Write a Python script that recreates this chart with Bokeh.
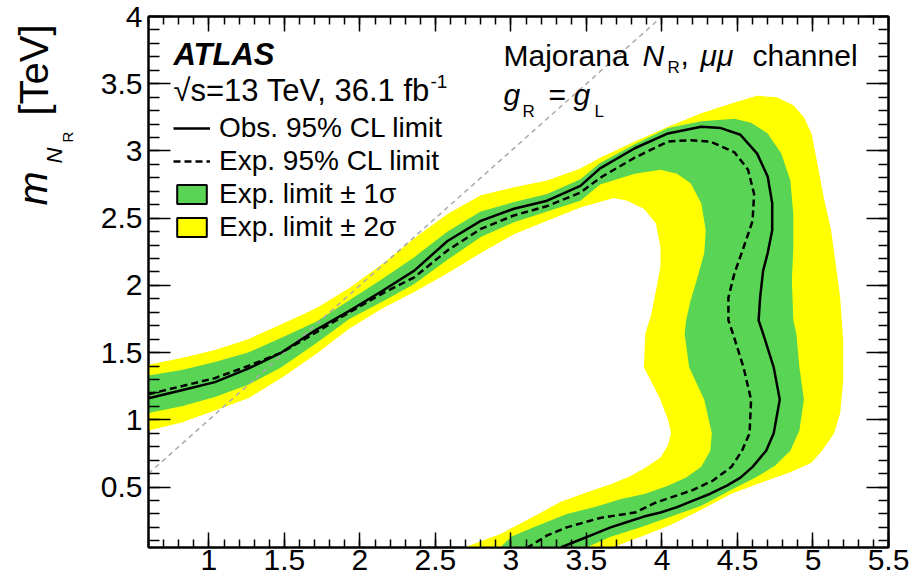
from bokeh.plotting import figure
from bokeh.layouts import row
from bokeh.models import LinearAxis, FixedTicker, Label, Legend, LegendItem
from bokeh.embed import file_html
from bokeh.resources import INLINE

# ---------------- data ----------------
# observed 95% CL limit contour (m_WR, m_NR) in TeV
obs_x = [0.60, 0.82, 1.04, 1.26, 1.48, 1.71, 1.93, 2.15, 2.36, 2.58, 2.80, 3.02, 3.24, 3.46, 3.59, 3.82,
         4.04, 4.26, 4.39, 4.52, 4.63, 4.70, 4.73, 4.73, 4.70, 4.67, 4.65, 4.64, 4.67, 4.74, 4.78, 4.74,
         4.69, 4.60, 4.52, 4.43, 4.32, 4.21, 4.10, 3.99, 3.88, 3.77, 3.66, 3.55, 3.44, 3.33]
obs_y = [1.16, 1.22, 1.28, 1.38, 1.50, 1.67, 1.81, 1.96, 2.11, 2.33, 2.48, 2.57, 2.63, 2.74, 2.87, 3.02,
         3.13, 3.18, 3.17, 3.12, 2.98, 2.81, 2.61, 2.41, 2.24, 2.11, 1.91, 1.74, 1.64, 1.39, 1.15, 0.90,
         0.77, 0.65, 0.57, 0.51, 0.45, 0.40, 0.35, 0.31, 0.28, 0.24, 0.20, 0.15, 0.10, 0.05]

# expected 95% CL limit contour
exp_x = [0.60, 0.82, 1.04, 1.26, 1.48, 1.71, 1.93, 2.15, 2.36, 2.58, 2.80, 3.02, 3.24, 3.46, 3.59, 3.82,
         4.04, 4.19, 4.32, 4.48, 4.57, 4.61, 4.60, 4.54, 4.48, 4.44, 4.44, 4.47, 4.54, 4.59, 4.58, 4.53,
         4.46, 4.34, 4.21, 4.08, 3.95, 3.82, 3.59, 3.37, 3.24, 3.11]
exp_y = [1.19, 1.25, 1.31, 1.40, 1.50, 1.65, 1.80, 1.94, 2.06, 2.26, 2.42, 2.52, 2.59, 2.69, 2.80, 2.95,
         3.07, 3.08, 3.07, 2.99, 2.86, 2.68, 2.48, 2.28, 2.09, 1.91, 1.74, 1.64, 1.39, 1.15, 0.90, 0.77,
         0.65, 0.55, 0.48, 0.43, 0.38, 0.31, 0.27, 0.20, 0.14, 0.05]

# expected +1 sigma (outer) contour
p1s_x = [0.60, 0.82, 1.04, 1.26, 1.48, 1.71, 1.93, 2.15, 2.36, 2.58, 2.80, 3.02, 3.24, 3.46, 3.59, 3.82,
         4.04, 4.26, 4.48, 4.59, 4.70, 4.79, 4.85, 4.87, 4.87, 4.86, 4.87, 4.89, 4.91, 4.94, 4.91, 4.85,
         4.75, 4.62, 4.46, 4.26, 4.06, 3.86, 3.66, 3.50]
p1s_y = [1.33, 1.37, 1.43, 1.50, 1.61, 1.73, 1.89, 2.05, 2.21, 2.40, 2.55, 2.62, 2.68, 2.79, 2.91, 3.05,
         3.17, 3.22, 3.24, 3.21, 3.13, 2.98, 2.78, 2.53, 2.28, 2.04, 1.74, 1.64, 1.39, 1.15, 0.92, 0.77,
         0.66, 0.57, 0.48, 0.36, 0.28, 0.20, 0.13, 0.05]

# expected -1 sigma (inner) contour
m1s_x = [0.60, 0.82, 1.04, 1.26, 1.48, 1.71, 1.93, 2.15, 2.36, 2.58, 2.80, 3.02, 3.24, 3.46, 3.59, 3.82,
         3.99, 4.10, 4.19, 4.26, 4.29, 4.28, 4.23, 4.19, 4.16, 4.15, 4.18, 4.28, 4.33, 4.32, 4.26, 4.16,
         4.04, 3.89, 3.73, 3.55, 3.37, 3.15, 3.00, 2.93]
m1s_y = [1.05, 1.10, 1.17, 1.26, 1.39, 1.57, 1.75, 1.88, 2.01, 2.19, 2.36, 2.47, 2.55, 2.63, 2.75, 2.83,
         2.86, 2.83, 2.76, 2.61, 2.41, 2.24, 2.04, 1.89, 1.74, 1.64, 1.39, 1.15, 0.90, 0.77, 0.65, 0.57,
         0.51, 0.45, 0.41, 0.35, 0.30, 0.20, 0.13, 0.05]

# expected +2 sigma (outer) contour
p2s_x = [0.60, 0.82, 1.04, 1.26, 1.48, 1.71, 1.93, 2.15, 2.36, 2.58, 2.80, 3.02, 3.24, 3.46, 3.59, 3.82,
         4.04, 4.26, 4.48, 4.63, 4.76, 4.87, 4.94, 4.99, 5.03, 5.07, 5.12, 5.15, 5.18, 5.20, 5.20, 5.18,
         5.14, 5.06, 4.99, 4.85, 4.65, 4.46, 4.26, 4.06, 3.86, 3.67]
p2s_y = [1.41, 1.46, 1.52, 1.60, 1.71, 1.83, 1.98, 2.16, 2.35, 2.53, 2.67, 2.73, 2.78, 2.87, 2.95, 3.07,
         3.18, 3.28, 3.36, 3.41, 3.40, 3.34, 3.25, 3.13, 2.90, 2.66, 2.41, 2.16, 1.91, 1.59, 1.29, 1.05,
         0.90, 0.77, 0.68, 0.61, 0.53, 0.45, 0.33, 0.22, 0.13, 0.05]

# expected -2 sigma (inner) contour
m2s_x = [0.60, 0.82, 1.04, 1.26, 1.48, 1.71, 1.93, 2.15, 2.36, 2.58, 2.80, 3.02, 3.24, 3.46, 3.68, 3.77,
         3.88, 3.96, 3.99, 3.99, 3.96, 3.93, 3.89, 3.88, 3.94, 3.99, 4.04, 4.06, 4.04, 3.99, 3.90, 3.79,
         3.66, 3.50, 3.33, 3.15, 2.93, 2.69]
m2s_y = [0.92, 0.98, 1.07, 1.16, 1.31, 1.49, 1.68, 1.83, 1.95, 2.09, 2.24, 2.38, 2.48, 2.58, 2.65, 2.63,
         2.57, 2.46, 2.28, 2.14, 1.96, 1.79, 1.64, 1.39, 1.26, 1.15, 1.00, 0.90, 0.81, 0.72, 0.65, 0.58,
         0.52, 0.46, 0.39, 0.28, 0.15, 0.05]

# m_N = m_W diagonal
diag_x = [0.6, 4.0]
diag_y = [0.6, 4.0]

# axes
x_range = (0.6, 5.5)
y_range = (0.05, 4.0)
x_ticks = [1, 1.5, 2, 2.5, 3, 3.5, 4, 4.5, 5, 5.5]
x_tick_labels = ["1", "1.5", "2", "2.5", "3", "3.5", "4", "4.5", "5", "5.5"]
y_ticks = [0.5, 1, 1.5, 2, 2.5, 3, 3.5, 4]
y_tick_labels = ["0.5", "1", "1.5", "2", "2.5", "3", "3.5", "4"]
x_minor = [round(0.6 + 0.1 * i, 1) for i in range(50)]
y_minor = [round(0.1 * i, 1) for i in range(1, 41)]

legend_labels = ["Obs. 95% CL limit", "Exp. 95% CL limit", "Exp. limit \u00b1 1\u03c3", "Exp. limit \u00b1 2\u03c3"]

# ---------------- styling ----------------
FONT = "Liberation Sans"
GREEN = "#59d454"
YELLOW = "#ffff00"
TW = 80            # width of the strip holding the y-axis title
W, H = 914, 583
FL, FT, FB = 148, 16, 547  # frame left / top / bottom in page pixels

p = figure(width=W - TW, height=H, x_range=x_range, y_range=y_range,
           output_backend="svg", toolbar_location=None,
           x_axis_location=None, y_axis_location=None,
           min_border_left=FL - TW, min_border_right=26, min_border_top=FT, min_border_bottom=H - FB)
p.grid.visible = False
p.outline_line_color = "black"
p.outline_line_width = 2
p.background_fill_color = "white"
p.border_fill_color = "white"


def make_axis(ticks, labels, minor, tin, min_in, show, standoff):
    shown = labels if show else ["" for _ in labels]
    ax = LinearAxis(ticker=FixedTicker(ticks=ticks, minor_ticks=minor),
                    major_label_overrides={t: s for t, s in zip(ticks, shown)},
                    major_tick_in=tin, major_tick_out=0,
                    minor_tick_in=min_in, minor_tick_out=0,
                    axis_line_color="black", axis_line_width=2,
                    major_tick_line_color="black", major_tick_line_width=1.5,
                    minor_tick_line_color="black", minor_tick_line_width=1.5,
                    major_label_standoff=standoff,
                    major_label_text_font=FONT,
                    major_label_text_color="black",
                    major_label_text_font_size="30px" if show else "1px")
    return ax


p.add_layout(make_axis(x_ticks, x_tick_labels, x_minor, 15, 8, True, 2), "below")
p.add_layout(make_axis(x_ticks, x_tick_labels, x_minor, 15, 8, False, 0), "above")
p.add_layout(make_axis(y_ticks, y_tick_labels, y_minor, 22, 11, True, 6), "left")
p.add_layout(make_axis(y_ticks, y_tick_labels, y_minor, 22, 10, False, 0), "right")

# bands: region between outer and inner contours
band2_x, band2_y = p2s_x + m2s_x[::-1], p2s_y + m2s_y[::-1]
band1_x, band1_y = p1s_x + m1s_x[::-1], p1s_y + m1s_y[::-1]
p.patch(band2_x, band2_y, fill_color=YELLOW, line_color=None)
p.patch(band1_x, band1_y, fill_color=GREEN, line_color=None)
p.line(diag_x, diag_y, line_color="#aaaaaa", line_width=1.5, line_dash="5 4")
r_exp = p.line(exp_x, exp_y, line_color="black", line_width=2.5, line_dash="7 4")
r_obs = p.line(obs_x, obs_y, line_color="black", line_width=2.5)

# legend keys for the bands (outlined boxes); renderers themselves hidden
r_g = p.patch(band1_x, band1_y, fill_color=GREEN, line_color="black", line_width=2, visible=False)
r_y = p.patch(band2_x, band2_y, fill_color=YELLOW, line_color="black", line_width=2, visible=False)

legend = Legend(items=[LegendItem(label=legend_labels[0], renderers=[r_obs]),
                       LegendItem(label=legend_labels[1], renderers=[r_exp]),
                       LegendItem(label=legend_labels[2], renderers=[r_g]),
                       LegendItem(label=legend_labels[3], renderers=[r_y])],
                location=(173 - FL, FB - 243),
                glyph_width=37, glyph_height=24, label_height=33, label_standoff=9,
                spacing=0, padding=0, margin=0,
                border_line_color=None, background_fill_alpha=0,
                label_text_font=FONT, label_text_font_size="28px", label_text_color="black")
p.add_layout(legend)


def lab(fig, left, bottom, px, py, text, size, style="normal", angle=0):
    # (px, py): start of the text baseline in page pixels; the label is anchored
    # at the middle of its text box, which sits ~0.35 em above the baseline
    off = 0.3465 * size
    if angle == 0:
        ax_, ay_ = px, py - off
    else:
        ax_, ay_ = px - off, py
    fig.add_layout(Label(x=ax_ - left, y=bottom - ay_, x_units="screen", y_units="screen",
                         text=text, text_font=FONT, text_font_size=f"{size}px",
                         text_font_style=style, text_color="black",
                         text_align="left", text_baseline="middle",
                         angle=angle, angle_units="deg"))


def plab(*a, **k):
    lab(p, FL, FB, *a, **k)


# ATLAS block
plab(173, 65, "ATLAS", 31, "bold italic")
plab(173, 101, "\u221as=13 TeV, 36.1 fb", 31)
plab(430, 88, "-1", 19)

# model text
plab(503, 65, "Majorana", 30)
plab(642, 65, "N", 30, "italic")
plab(667, 73, "R", 17)
plab(680, 65, ",", 30)
plab(700, 65, "\u03bc\u03bc", 30, "italic")
plab(752, 65, "channel", 30)
plab(503, 104, "g", 30, "italic")
plab(522, 117, "R", 17)
plab(548, 104, "=", 30)
plab(573, 104, "g", 30, "italic")
plab(594, 117, "L", 17)

# y-axis title m_{N_R} [TeV] in a narrow strip left of the plot
t = figure(width=TW, height=H, x_range=(0, TW), y_range=(0, H),
           output_backend="svg", toolbar_location=None,
           x_axis_location=None, y_axis_location=None,
           min_border_left=0, min_border_right=0, min_border_top=FT, min_border_bottom=H - FB)
t.grid.visible = False
t.outline_line_color = None
t.background_fill_color = "white"
t.border_fill_color = "white"


def tlab(*a, **k):
    lab(t, 0, FB, *a, **k)


tlab(47, 205, "m", 41, "italic", 90)
tlab(62, 163, "N", 22, "italic", 90)
tlab(72, 142, "R", 15, "normal", 90)
tlab(47, 115, "[TeV]", 40, "normal", 90)

layout = row(t, p, spacing=0)
open("out.html", "w").write(file_html(layout, INLINE))
